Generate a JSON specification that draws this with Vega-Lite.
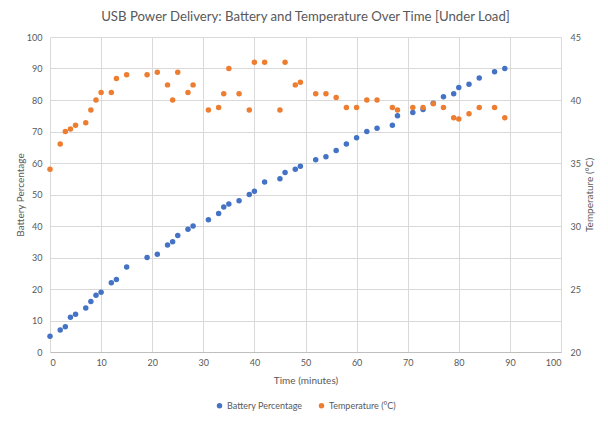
{
  "$schema": "https://vega.github.io/schema/vega-lite/v6.json",
  "autosize": {"type": "none"},
  "width": 511,
  "height": 315,
  "padding": {"left": 50, "top": 37, "right": 47, "bottom": 70},
  "background": "white",
  "title": {
    "text": "USB Power Delivery: Battery and Temperature Over Time [Under Load]",
    "fontSize": 13.2,
    "fontWeight": "normal",
    "font": "Lato",
    "color": "#595959",
    "anchor": "middle",
    "offset": 9
  },
  "config": {
    "view": {"stroke": null},
    "font": "Lato",
    "axis": {
      "labelFont": "Lato",
      "labelFontSize": 9,
      "labelColor": "#595959",
      "titleFont": "Lato",
      "titleFontSize": 10,
      "titleFontWeight": "normal",
      "titleColor": "#595959",
      "gridColor": "#d9d9d9",
      "ticks": false,
      "domain": false
    },
    "legend": {
      "labelFont": "Lato",
      "labelFontSize": 9,
      "labelColor": "#595959",
      "layout": {"bottom": {"anchor": "middle"}}
    }
  },
  "data": {
    "values": [
      {"time": 0, "battery": 5, "temp": 34.5},
      {"time": 2, "battery": 7, "temp": 36.5},
      {"time": 3, "battery": 8, "temp": 37.5},
      {"time": 4, "battery": 11, "temp": 37.7},
      {"time": 5, "battery": 12, "temp": 38.0},
      {"time": 7, "battery": 14, "temp": 38.2},
      {"time": 8, "battery": 16, "temp": 39.2},
      {"time": 9, "battery": 18, "temp": 40.0},
      {"time": 10, "battery": 19, "temp": 40.6},
      {"time": 12, "battery": 22, "temp": 40.6},
      {"time": 13, "battery": 23, "temp": 41.7},
      {"time": 15, "battery": 27, "temp": 42.0},
      {"time": 19, "battery": 30, "temp": 42.0},
      {"time": 21, "battery": 31, "temp": 42.2},
      {"time": 23, "battery": 34, "temp": 41.2},
      {"time": 24, "battery": 35, "temp": 40.0},
      {"time": 25, "battery": 37, "temp": 42.2},
      {"time": 27, "battery": 39, "temp": 40.6},
      {"time": 28, "battery": 40, "temp": 41.2},
      {"time": 31, "battery": 42, "temp": 39.2},
      {"time": 33, "battery": 44, "temp": 39.4},
      {"time": 34, "battery": 46, "temp": 40.5},
      {"time": 35, "battery": 47, "temp": 42.5},
      {"time": 37, "battery": 48, "temp": 40.5},
      {"time": 39, "battery": 50, "temp": 39.2},
      {"time": 40, "battery": 51, "temp": 43.0},
      {"time": 42, "battery": 54, "temp": 43.0},
      {"time": 45, "battery": 55, "temp": 39.2},
      {"time": 46, "battery": 57, "temp": 43.0},
      {"time": 48, "battery": 58, "temp": 41.2},
      {"time": 49, "battery": 59, "temp": 41.4},
      {"time": 52, "battery": 61, "temp": 40.5},
      {"time": 54, "battery": 62, "temp": 40.5},
      {"time": 56, "battery": 64, "temp": 40.2},
      {"time": 58, "battery": 66, "temp": 39.4},
      {"time": 60, "battery": 68, "temp": 39.4},
      {"time": 62, "battery": 70, "temp": 40.0},
      {"time": 64, "battery": 71, "temp": 40.0},
      {"time": 67, "battery": 72, "temp": 39.4},
      {"time": 68, "battery": 75, "temp": 39.2},
      {"time": 71, "battery": 76, "temp": 39.4},
      {"time": 73, "battery": 77, "temp": 39.4},
      {"time": 75, "battery": 79, "temp": 39.7},
      {"time": 77, "battery": 81, "temp": 39.4},
      {"time": 79, "battery": 82, "temp": 38.6},
      {"time": 80, "battery": 84, "temp": 38.5},
      {"time": 82, "battery": 85, "temp": 38.9},
      {"time": 84, "battery": 87, "temp": 39.4},
      {"time": 87, "battery": 89, "temp": 39.4},
      {"time": 89, "battery": 90, "temp": 38.6}
    ]
  },
  "encoding": {
    "x": {
      "field": "time",
      "type": "quantitative",
      "title": "Time (minutes)",
      "scale": {"domain": [0, 100], "nice": false},
      "axis": {
        "values": [0, 10, 20, 30, 40, 50, 60, 70, 80, 90, 100],
        "domain": true,
        "domainColor": "#bfbfbf",
        "labelPadding": 6,
        "titlePadding": 8
      }
    }
  },
  "layer": [
    {
      "mark": {"type": "circle", "size": 30, "opacity": 1},
      "encoding": {
        "y": {
          "field": "battery",
          "type": "quantitative",
          "title": "Battery Percentage",
          "scale": {"domain": [0, 100], "nice": false},
          "axis": {
            "values": [0, 10, 20, 30, 40, 50, 60, 70, 80, 90, 100],
            "labelPadding": 8,
            "titlePadding": 1
          }
        },
        "color": {
          "datum": "Battery Percentage",
          "type": "nominal",
          "scale": {
            "domain": ["Battery Percentage", "Temperature (°C)"],
            "range": ["#4472c4", "#ed7d31"]
          },
          "legend": {
            "title": null,
            "orient": "bottom",
            "direction": "horizontal",
            "symbolType": "circle",
            "symbolSize": 30,
            "labelOffset": 3,
            "columnPadding": 14,
            "offset": 16
          }
        }
      }
    },
    {
      "mark": {"type": "circle", "size": 30, "opacity": 1},
      "encoding": {
        "y": {
          "field": "temp",
          "type": "quantitative",
          "title": "Temperature (°C)",
          "scale": {"domain": [20, 45], "nice": false},
          "axis": {
            "orient": "right",
            "values": [20, 25, 30, 35, 40, 45],
            "grid": false,
            "labelPadding": 9,
            "titlePadding": 4,
            "titleAngle": 270,
            "titleBaseline": "top"
          }
        },
        "color": {"datum": "Temperature (°C)", "type": "nominal"}
      }
    }
  ],
  "resolve": {"scale": {"y": "independent"}}
}
